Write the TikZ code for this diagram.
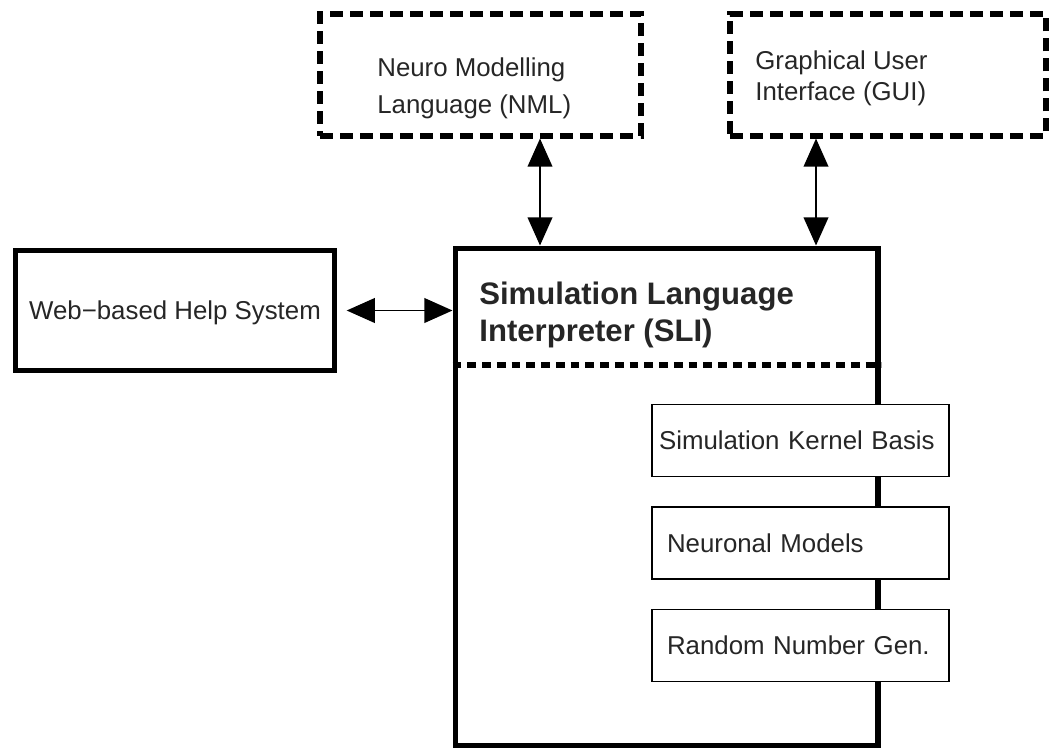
\documentclass[tikz,border=0pt]{standalone}
\usepackage{fontspec}
\setsansfont{Liberation Sans}
\usetikzlibrary{arrows.meta,positioning}

\begin{document}
\begin{tikzpicture}[
  x=0.02cm, y=-0.02cm,
  node distance=0.58cm,
  extbox/.style={draw, line width=2.9pt, dash pattern=on 7.4pt off 4pt,
                 minimum height=2.44cm},
  corebox/.style={draw, line width=2.9pt},
  partbox/.style={draw, line width=0.9pt, fill=white, inner xsep=0pt,
                  minimum width=5.94cm, minimum height=1.44cm,
                  align=left, text width=5.34cm, text=black!85,
                  font=\sffamily\fontsize{14.7}{18}\selectfont},
  lbl/.style={inner sep=0pt, align=left, text=black!85},
  link/.style={{Triangle[length=16pt,width=14pt]}-{Triangle[length=16pt,width=14pt]},
               line width=1.1pt},
]
  \useasboundingbox (0,0) rectangle (1050,750);

  %% Outside tools (dashed)
  \node[extbox, minimum width=6.42cm] (nml) at (480.5,75) {};
  \node[extbox, minimum width=6.32cm] (gui) at (888,75) {};
  \node[lbl, anchor=north west, font=\sffamily\fontsize{14.7}{21.5}\selectfont]
    (nmltext) at (377,57) {Neuro Modelling\\Language (NML)};
  \node[lbl, anchor=north west, font=\sffamily\fontsize{14.7}{18.1}\selectfont]
    (guitext) at (755,50) {Graphical User\\Interface (GUI)};

  %% Help system
  \node[corebox, minimum width=6.38cm, minimum height=2.4cm, text=black!85,
        font=\sffamily\fontsize{14.7}{18}\selectfont,
        text height=1.25em, text depth=.25em] (web) at (175,310.5)
    {Web−based Help System};

  %% Interpreter with its kernel parts
  \node[corebox, minimum width=8.46cm, minimum height=9.95cm] (sli) at (666.5,496.75) {};
  \node[lbl, anchor=north west, font=\sffamily\bfseries\fontsize{17.7}{21}\selectfont]
    (slitext) at (479,282) {Simulation Language\\Interpreter (SLI)};
  \coordinate (sep) at (0,365);
  \draw[line width=3.4pt, dash pattern=on 5pt off 3.4pt] (sli.west |- sep) -- (sli.east |- sep);

  \node[partbox, text width=5.66cm] (kernel) at (800.5,440.5) {Simulation Kernel Basis};
  \node[partbox, below=of kernel] (models) {Neuronal Models};
  \node[partbox, below=of models] (rng) {Random Number Gen.};

  %% Connectors
  \coordinate (nmlport) at (540,0);
  \coordinate (guiport) at (816,0);
  \draw[link] (nml.south -| nmlport) -- (sli.north -| nmlport);
  \draw[link] (gui.south -| guiport) -- (sli.north -| guiport);
  \draw[link, shorten <=5.5pt] (web.east) -- (sli.west |- web.east);

\end{tikzpicture}
\end{document}
